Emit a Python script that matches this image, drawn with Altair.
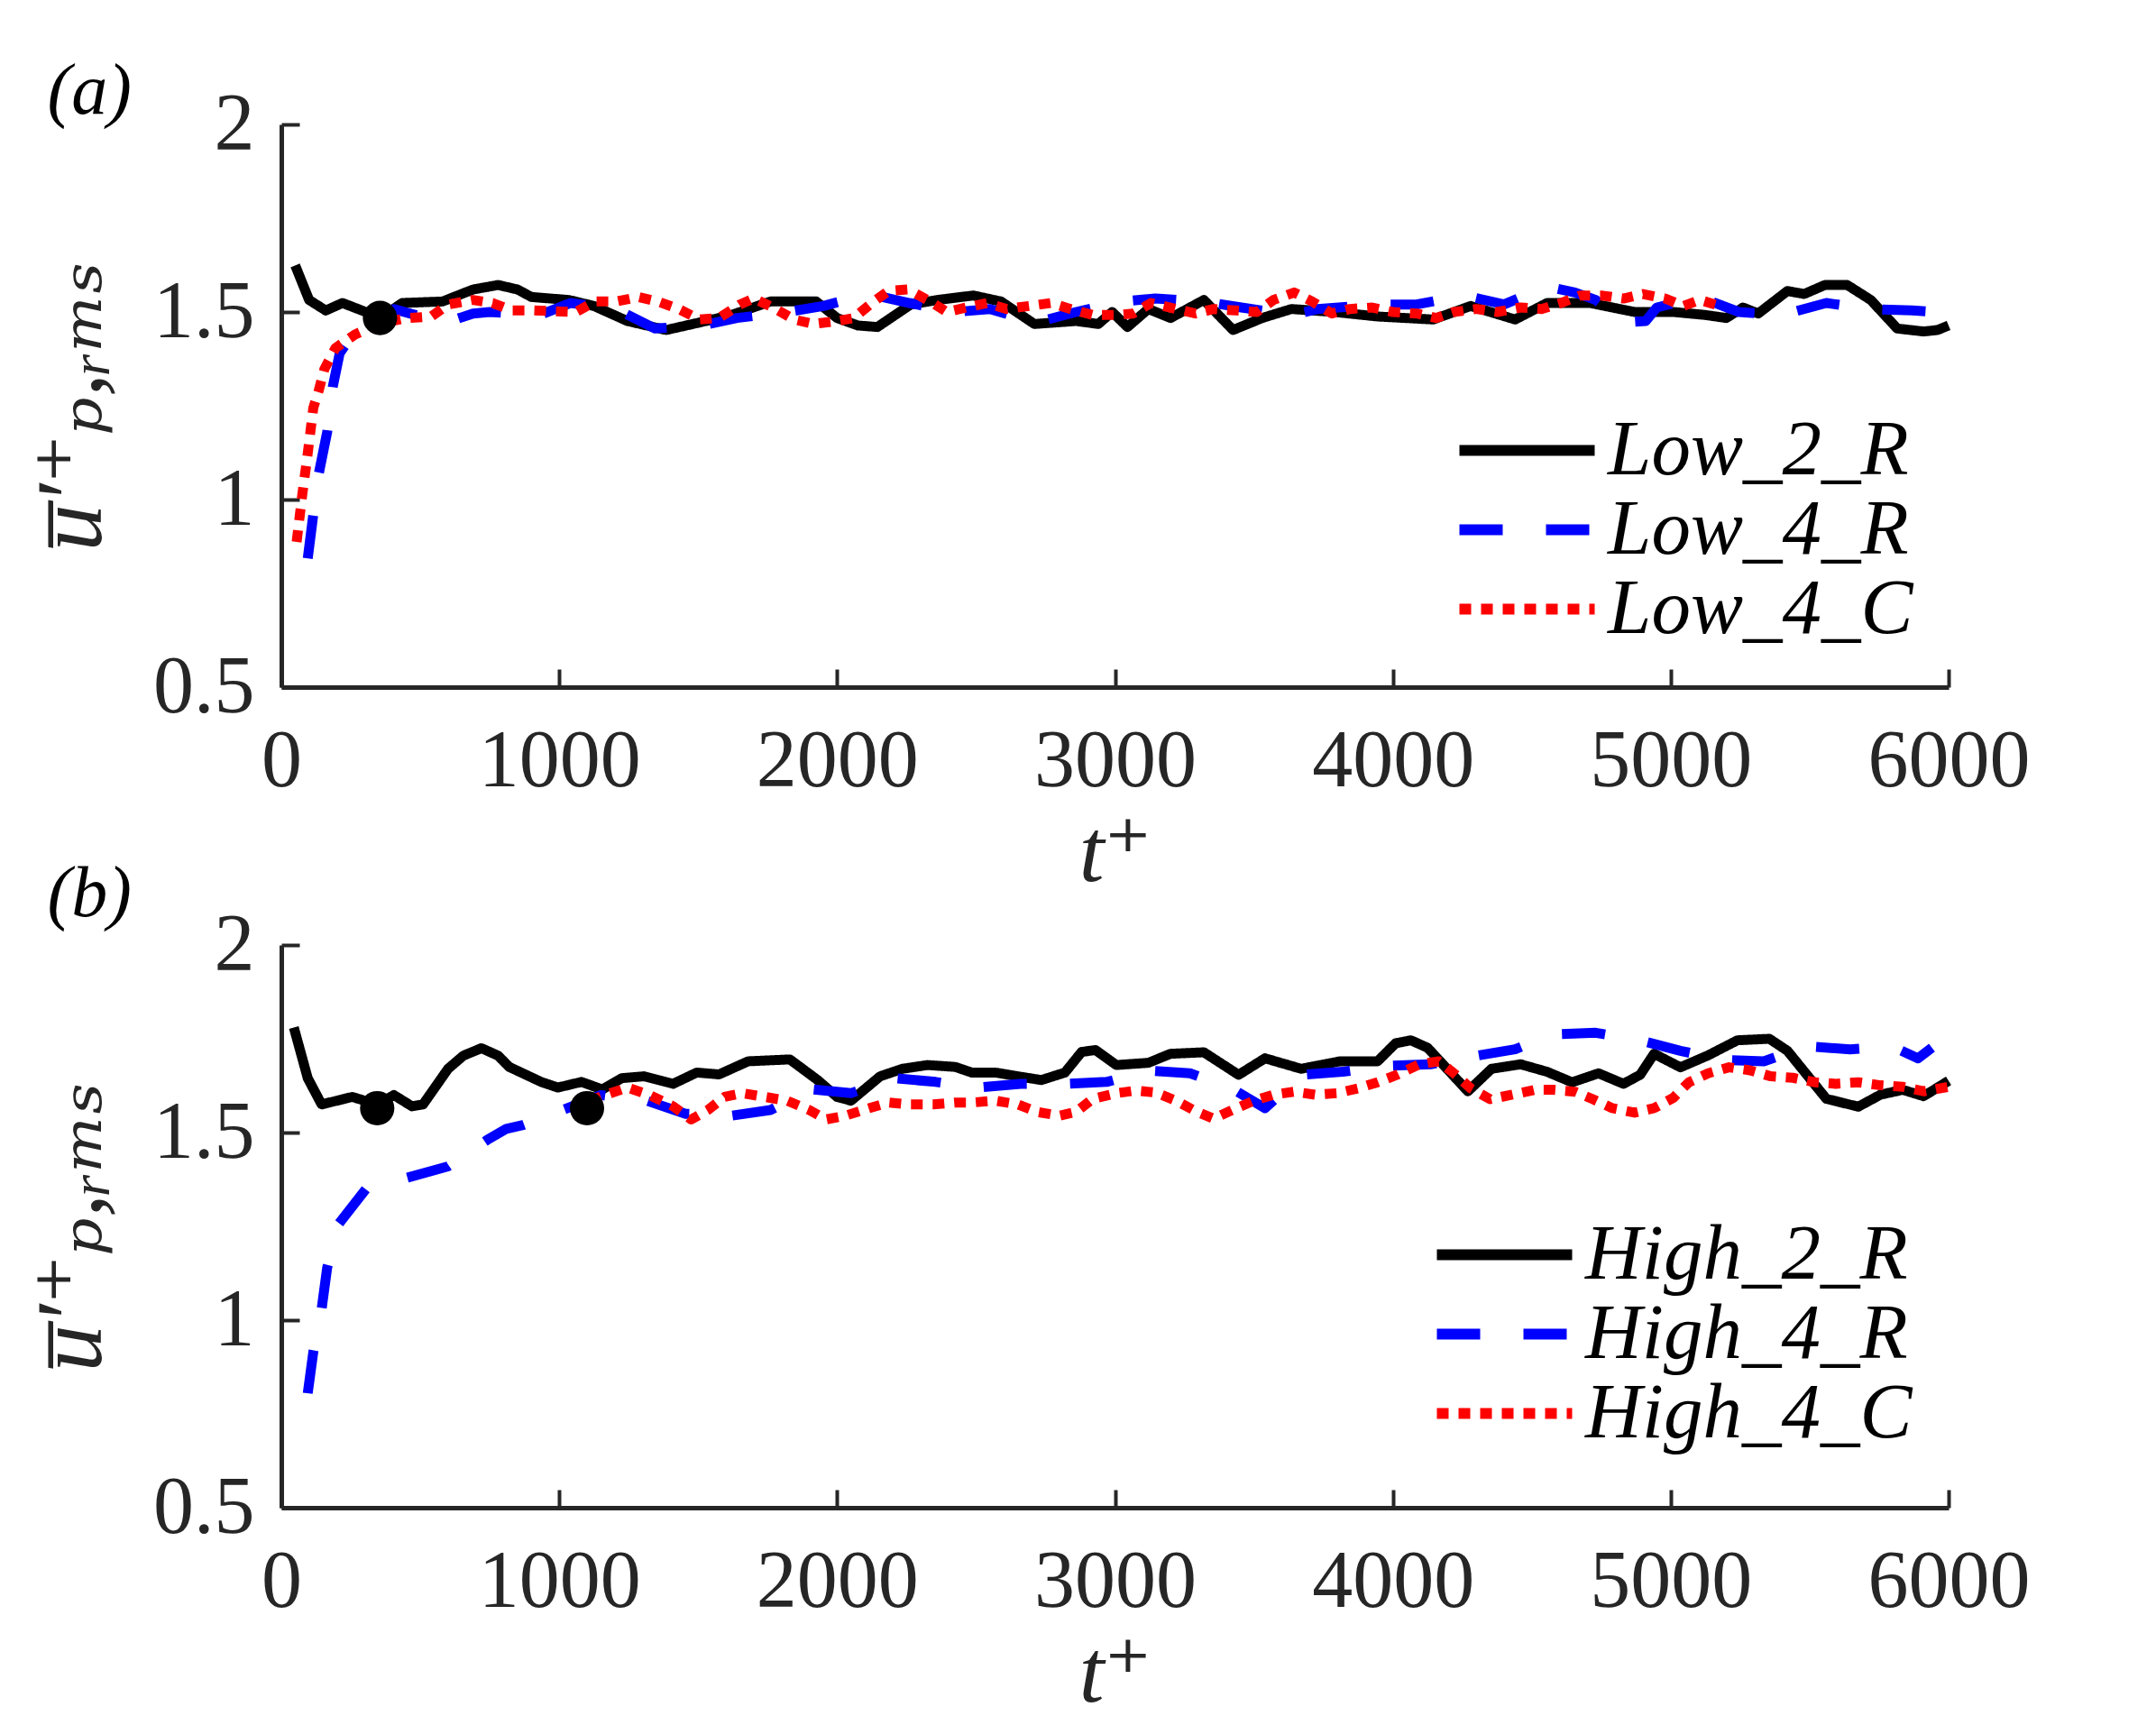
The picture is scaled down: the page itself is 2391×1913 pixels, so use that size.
import altair as alt
import pandas as pd

# ---------------- data ----------------
# panel (a)
t_low2R = [50,100,160,220,290,355,435,580,690,780,
           850,900,1035,1125,1245,1385,1505,1620,1760,1925,
           2000,2075,2145,2265,2360,2490,2590,2710,2860,2940,
           2990,3045,3120,3200,3320,3425,3530,3635,3790,3945,
           4145,4280,4440,4555,4710,4870,5010,5125,5200,5260,
           5315,5420,5480,5555,5635,5720,5815,5910,5960,6000]
u_low2R = [1.624,1.532,1.504,1.524,1.504,1.484,1.524,1.528,1.56,1.572,
           1.56,1.54,1.532,1.516,1.476,1.452,1.472,1.492,1.528,1.528,
           1.484,1.464,1.46,1.52,1.532,1.544,1.528,1.468,1.476,1.468,
           1.5,1.46,1.508,1.484,1.532,1.452,1.484,1.508,1.5,1.488,
           1.48,1.516,1.48,1.524,1.524,1.5,1.5,1.492,1.484,1.512,
           1.496,1.556,1.548,1.572,1.572,1.532,1.456,1.448,1.452,1.464]

t_low4R = [95,115,135,165,185,210,265,355,405,540,
           605,690,750,930,1040,1205,1345,1515,1640,1820,
           1950,2115,2260,2425,2550,2715,2860,3025,3145,3320,
           3455,3635,3730,3945,4085,4260,4400,4555,4655,4730,
           4835,4910,4950,5105,5245,5400,5560,5715,5870,5950]
u_low4R = [0.843,0.96,1.07,1.18,1.30,1.39,1.45,1.49,1.508,1.48,
           1.475,1.496,1.50,1.492,1.524,1.508,1.456,1.464,1.484,1.50,
           1.516,1.548,1.524,1.50,1.508,1.472,1.50,1.528,1.536,1.528,
           1.512,1.492,1.508,1.52,1.52,1.544,1.52,1.568,1.552,1.532,
           1.472,1.476,1.512,1.54,1.50,1.492,1.524,1.508,1.504,1.50]

t_low4C = [55,75,95,115,135,155,195,265,355,455,
           540,600,690,760,830,910,1060,1130,1205,1285,
           1355,1430,1505,1575,1650,1700,1770,1845,1915,2000,
           2060,2125,2185,2255,2335,2395,2465,2540,2610,2690,
           2770,2840,2920,3005,3065,3130,3220,3290,3355,3435,
           3510,3570,3645,3710,3780,3845,3925,4000,4085,4155,
           4220,4300,4375,4460,4535,4605,4675,4750,4830,4900,
           4980,5045,5105,5160]
u_low4C = [0.887,1.011,1.123,1.244,1.292,1.348,1.404,1.44,1.47,1.484,
           1.488,1.52,1.532,1.524,1.504,1.504,1.50,1.528,1.528,1.54,
           1.528,1.508,1.48,1.484,1.52,1.536,1.512,1.48,1.468,1.476,
           1.484,1.524,1.556,1.56,1.528,1.50,1.512,1.524,1.508,1.516,
           1.524,1.508,1.492,1.492,1.496,1.524,1.508,1.496,1.508,1.504,
           1.50,1.532,1.552,1.528,1.496,1.508,1.512,1.50,1.496,1.484,
           1.50,1.508,1.50,1.512,1.508,1.524,1.544,1.544,1.536,1.548,
           1.536,1.516,1.532,1.52]

dot_t_a = [355]
dot_u_a = [1.484]

# panel (b)
t_high2R = [45,95,145,255,345,405,470,510,600,655,
            720,780,820,935,995,1080,1155,1225,1305,1410,
            1495,1575,1680,1830,1930,2000,2050,2155,2235,2325,
            2425,2485,2570,2650,2735,2820,2880,2930,3005,3120,
            3200,3320,3445,3540,3670,3810,3945,4010,4065,4125,
            4190,4270,4355,4460,4555,4645,4740,4830,4890,4940,
            5035,5135,5240,5355,5420,5490,5560,5675,5755,5835,
            5910,6000]
u_high2R = [1.78,1.645,1.575,1.595,1.575,1.60,1.57,1.575,1.67,1.705,
            1.725,1.705,1.675,1.635,1.62,1.635,1.615,1.645,1.65,1.63,
            1.66,1.655,1.69,1.695,1.64,1.595,1.585,1.65,1.67,1.68,
            1.675,1.66,1.66,1.65,1.64,1.66,1.715,1.72,1.68,1.686,
            1.71,1.714,1.654,1.698,1.67,1.69,1.69,1.738,1.746,1.726,
            1.674,1.61,1.67,1.682,1.662,1.634,1.658,1.63,1.654,1.71,
            1.674,1.706,1.746,1.75,1.718,1.654,1.59,1.569,1.601,1.614,
            1.597,1.638]

t_high4R = [95,115,145,165,205,305,455,600,740,810,
            870,1030,1150,1315,1455,1620,1760,1910,2050,2205,
            2355,2505,2660,2820,2970,3125,3270,3415,3540,3670,
            3820,3980,4135,4280,4440,4575,4730,4890,5035,5185,
            5335,5490,5645,5795,5890,5940]
u_high4R = [0.805,0.915,1.03,1.14,1.255,1.35,1.38,1.41,1.48,1.51,
            1.52,1.565,1.60,1.585,1.55,1.545,1.56,1.615,1.605,1.645,
            1.635,1.62,1.63,1.63,1.635,1.665,1.658,1.62,1.565,1.654,
            1.662,1.678,1.682,1.702,1.722,1.762,1.766,1.746,1.718,1.694,
            1.69,1.73,1.722,1.73,1.698,1.726]

t_high4C = [1110,1165,1245,1325,1410,1475,1535,1595,1660,1740,
            1820,1900,1960,2030,2115,2185,2255,2345,2425,2485,
            2570,2650,2720,2800,2860,2920,3005,3075,3145,3220,
            3290,3355,3425,3500,3570,3645,3720,3800,3875,3945,
            4015,4095,4165,4220,4280,4350,4430,4510,4575,4655,
            4720,4790,4870,4940,5010,5065,5135,5210,5285,5360,
            5440,5520,5595,5675,5755,5835,5910,6000]
u_high4C = [1.585,1.60,1.62,1.60,1.57,1.535,1.56,1.595,1.605,1.595,
            1.585,1.56,1.535,1.545,1.565,1.58,1.575,1.575,1.58,1.58,
            1.585,1.575,1.555,1.545,1.555,1.59,1.605,1.612,1.607,1.585,
            1.557,1.537,1.561,1.585,1.601,1.609,1.601,1.605,1.618,1.634,
            1.654,1.682,1.69,1.658,1.618,1.589,1.601,1.614,1.614,1.609,
            1.589,1.565,1.553,1.565,1.593,1.634,1.658,1.674,1.666,1.65,
            1.646,1.634,1.63,1.634,1.626,1.622,1.61,1.622]

dot_t_b = [345, 1100]
dot_u_b = [1.565, 1.565]

names_a = ["Low_2_R", "Low_4_R", "Low_4_C"]
names_b = ["High_2_R", "High_4_R", "High_4_C"]
line_colors = ["#000000", "#0000ff", "#ff0000"]
line_dashes = [[1, 0], [48, 48], [13, 11]]

x_ticks = [0, 1000, 2000, 3000, 4000, 5000, 6000]
y_ticks = [0.5, 1, 1.5, 2]

# ---------------- styling ----------------
W, H = 1849, 624
SERIF = "Liberation Serif, Times New Roman, Times, Nimbus Roman, DejaVu Serif, serif"
AX = "#262626"


def long_frame(names, ts, us):
    rows = []
    for name, t, u in zip(names, ts, us):
        for ti, ui in zip(t, u):
            rows.append({"case": name, "t": ti, "u": ui})
    return pd.DataFrame(rows)


def panel(names, ts, us, dts, dus, label, legend_x, legend_y, title_offset):
    df = long_frame(names, ts, us)
    dots = pd.DataFrame({"t": dts, "u": dus})
    xs = alt.Scale(domain=[0, 6000], nice=False, zero=False)
    ys = alt.Scale(domain=[0.5, 2], nice=False, zero=False)
    leg = alt.Legend(
        orient="none", legendX=legend_x, legendY=legend_y, title=None,
        symbolType="M-3,0H3", symbolSize=2500, symbolStrokeWidth=12,
        symbolFillColor="transparent",
        labelFont=SERIF, labelFontStyle="italic", labelFontSize=87,
        labelColor="black", labelOffset=46, rowPadding=0, padding=0,
        labelLimit=1000,
    )
    lines = alt.Chart(df).mark_line(strokeWidth=11, strokeCap="butt", strokeJoin="round").encode(
        x=alt.X("t:Q", scale=xs, axis=alt.Axis(
            values=x_ticks, format="d", title="t⁺", ticks=False, grid=False,
            domainColor=AX, domainWidth=5, labelFont=SERIF, labelFontSize=90,
            labelColor=AX, labelPadding=38, labelFlush=False, labelLimit=1000,
            titleFont=SERIF, titleFontStyle="italic", titleFontWeight="normal",
            titleFontSize=100, titleColor=AX, titlePadding=8)),
        y=alt.Y("u:Q", scale=ys, axis=alt.Axis(
            values=y_ticks, format="~g", title="u̅′⁺ₚ,ᵣₘₛ", ticks=False, grid=False,
            domainColor=AX, domainWidth=5, labelFont=SERIF, labelFontSize=90,
            labelColor=AX, labelPadding=30, labelFlush=False, labelLimit=1000,
            titleFont=SERIF, titleFontStyle="italic", titleFontWeight="normal",
            titleFontSize=104, titleColor=AX, titlePadding=36)),
        color=alt.Color("case:N", scale=alt.Scale(domain=names, range=line_colors), legend=leg),
        strokeDash=alt.StrokeDash("case:N", scale=alt.Scale(domain=names, range=line_dashes), legend=leg),
    )
    marks = alt.Chart(dots).mark_circle(size=1450, color="black", opacity=1).encode(
        x=alt.X("t:Q", scale=xs, axis=alt.Axis(
            orient="top", offset=-H, values=x_ticks, labels=False, domain=False,
            grid=False, ticks=True, tickSize=20, tickWidth=4, tickColor=AX, title=None)),
        y=alt.Y("u:Q", scale=ys, axis=alt.Axis(
            orient="right", offset=-W, values=y_ticks, labels=False, domain=False,
            grid=False, ticks=True, tickSize=20, tickWidth=4, tickColor=AX, title=None)),
    )
    return alt.layer(lines, marks).resolve_axis(x="independent", y="independent").properties(
        width=W, height=H,
        title=alt.TitleParams(label, anchor="start", frame="bounds", font=SERIF,
                              fontStyle="italic", fontWeight="normal", fontSize=80,
                              color="black", dx=24, offset=title_offset),
    )


pa = panel(names_a, [t_low2R, t_low4R, t_low4C], [u_low2R, u_low4R, u_low4C],
           dot_t_a, dot_u_a, "(a)", 1338, 318, -50)
pb = panel(names_b, [t_high2R, t_high4R, t_high4C], [u_high2R, u_high4R, u_high4C],
           dot_t_b, dot_u_b, "(b)", 1313, 300, -30)

chart = alt.vconcat(pa, pb, spacing=-44).resolve_scale(
    color="independent", strokeDash="independent", x="independent", y="independent"
).resolve_legend(color="independent", strokeDash="independent").configure_view(
    stroke=None
).properties(padding={"left": 20, "top": 54, "right": 5, "bottom": 5}, background="white")

chart.save("out.html", embed_options={"renderer": "svg", "actions": False})
